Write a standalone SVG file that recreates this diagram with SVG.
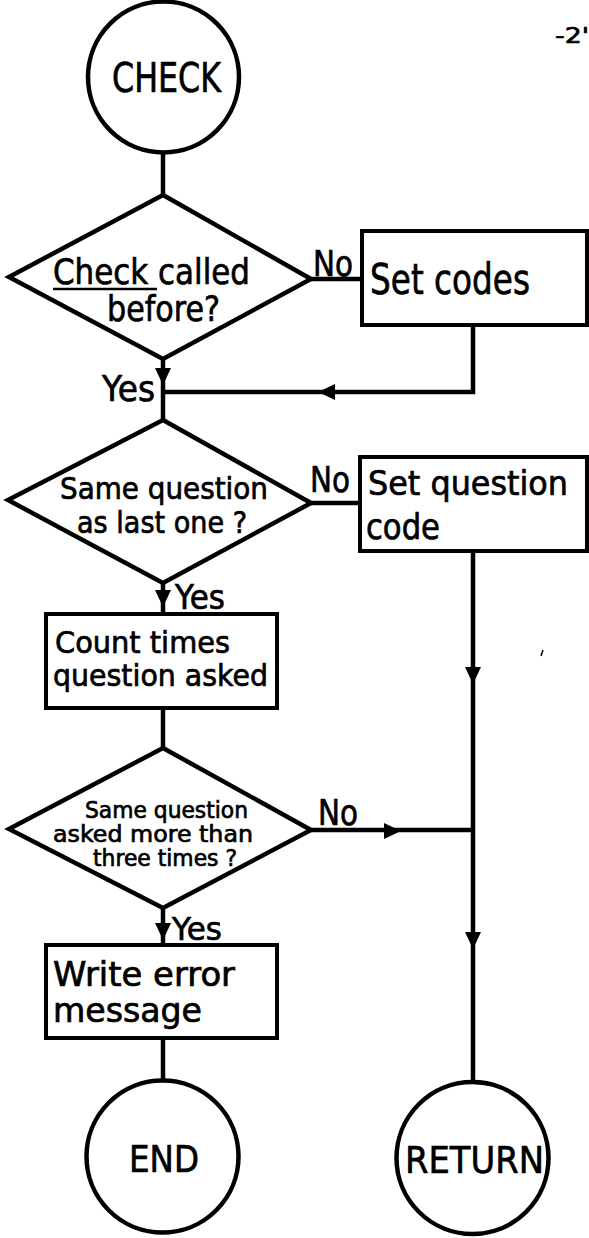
<svg xmlns="http://www.w3.org/2000/svg" xmlns:xlink="http://www.w3.org/1999/xlink" width="589" height="1238" viewBox="0 0 589 1238">
<style>
  .shape { fill: #fff; stroke: #000; stroke-width: 4.5; }
  .box { fill: #fff; stroke: #000; stroke-width: 4; }
  .line { fill: none; stroke: #000; stroke-width: 4.5; }
  .thin { fill: none; stroke: #000; stroke-width: 2.5; }
  text { font-family: "DejaVu Sans", "Liberation Sans", sans-serif; fill: #000; stroke: #000; stroke-width: 0.7; }
</style>
<defs>
  <path id="ah" d="M0,0 L-8,-17 L8,-17 Z" fill="#000"/>
</defs>
<rect x="0" y="0" width="589" height="1238" fill="#fff"/>

<g id="page-number">
  <text x="555" y="43" font-size="21" textLength="34" lengthAdjust="spacingAndGlyphs">-2'</text>
</g>

<g id="connectors">
  <line class="line" x1="163" y1="153" x2="163" y2="195"/>
  <line class="line" x1="163" y1="359" x2="163" y2="420"/>
  <line class="line" x1="311" y1="279" x2="362" y2="279"/>
  <polyline class="line" points="473,325 473,392 163,392"/>
  <line class="line" x1="311" y1="503" x2="360" y2="503"/>
  <line class="line" x1="163" y1="583" x2="163" y2="614"/>
  <line class="line" x1="163" y1="708" x2="163" y2="748"/>
  <line class="line" x1="473" y1="551" x2="473" y2="1082"/>
  <line class="line" x1="311" y1="830" x2="473" y2="830"/>
  <line class="line" x1="163" y1="908" x2="163" y2="945"/>
  <line class="line" x1="163" y1="1038" x2="163" y2="1080"/>
  <use xlink:href="#ah" transform="translate(163,385)"/>
  <use xlink:href="#ah" transform="translate(318,392) rotate(90)"/>
  <use xlink:href="#ah" transform="translate(163,607)"/>
  <use xlink:href="#ah" transform="translate(473,684)"/>
  <use xlink:href="#ah" transform="translate(401,831) rotate(-90)"/>
  <use xlink:href="#ah" transform="translate(163,940)"/>
  <use xlink:href="#ah" transform="translate(473,949)"/>
  <text x="313" y="276" font-size="36" textLength="40" lengthAdjust="spacingAndGlyphs">No</text>
  <text x="102" y="401" font-size="36" textLength="53" lengthAdjust="spacingAndGlyphs">Yes</text>
  <text x="310" y="492" font-size="36" textLength="40" lengthAdjust="spacingAndGlyphs">No</text>
  <text x="175" y="609" font-size="34" textLength="50" lengthAdjust="spacingAndGlyphs">Yes</text>
  <text x="318" y="825" font-size="36" textLength="40" lengthAdjust="spacingAndGlyphs">No</text>
  <text x="172" y="940" font-size="32" textLength="50" lengthAdjust="spacingAndGlyphs">Yes</text>
</g>

<g id="check">
  <circle class="shape" cx="163.5" cy="77" r="75.5"/>
  <text x="112" y="92" font-size="40" textLength="109" lengthAdjust="spacingAndGlyphs">CHECK</text>
</g>

<g id="decision-called-before">
  <polygon class="shape" points="163,195 311,279 163,359 9,277"/>
  <text x="53" y="284" font-size="36" textLength="197" lengthAdjust="spacingAndGlyphs">Check called</text>
  <line class="thin" x1="53" y1="289" x2="157" y2="289"/>
  <text x="107" y="321" font-size="36" textLength="113" lengthAdjust="spacingAndGlyphs">before?</text>
</g>

<g id="set-codes">
  <rect class="box" x="362" y="231" width="225" height="94"/>
  <text x="370" y="294" font-size="42" textLength="160" lengthAdjust="spacingAndGlyphs">Set codes</text>
</g>

<g id="decision-same-question">
  <polygon class="shape" points="163,420 311,503 163,583 8,500"/>
  <text x="60" y="499" font-size="30" textLength="208" lengthAdjust="spacingAndGlyphs">Same question</text>
  <text x="77" y="533" font-size="30" textLength="170" lengthAdjust="spacingAndGlyphs">as last one ?</text>
</g>

<g id="set-question-code">
  <rect class="box" x="360" y="457" width="227" height="94"/>
  <text x="368" y="495" font-size="34" textLength="200" lengthAdjust="spacingAndGlyphs">Set question</text>
  <text x="366" y="539" font-size="35" textLength="74" lengthAdjust="spacingAndGlyphs">code</text>
</g>

<g id="count-times">
  <rect class="box" x="46" y="614" width="231" height="94"/>
  <text x="55" y="653" font-size="30" textLength="175" lengthAdjust="spacingAndGlyphs">Count times</text>
  <text x="53" y="686" font-size="30" textLength="215" lengthAdjust="spacingAndGlyphs">question asked</text>
</g>

<g id="decision-more-than-three">
  <polygon class="shape" points="163,748 311,830 163,908 9,829"/>
  <text x="85" y="818" font-size="23" textLength="163" lengthAdjust="spacingAndGlyphs">Same question</text>
  <text x="53" y="842" font-size="23" textLength="200" lengthAdjust="spacingAndGlyphs">asked more than</text>
  <text x="93" y="866" font-size="23" textLength="144" lengthAdjust="spacingAndGlyphs">three times ?</text>
</g>

<g id="write-error">
  <rect class="box" x="46" y="945" width="231" height="93"/>
  <text x="53" y="986" font-size="33" textLength="182" lengthAdjust="spacingAndGlyphs">Write error</text>
  <text x="53" y="1022" font-size="33" textLength="149" lengthAdjust="spacingAndGlyphs">message</text>
</g>

<g id="end">
  <circle class="shape" cx="162.5" cy="1156.5" r="76"/>
  <text x="129" y="1172" font-size="37" textLength="70" lengthAdjust="spacingAndGlyphs">END</text>
</g>

<g id="return">
  <circle class="shape" cx="472.5" cy="1158" r="76"/>
  <text x="405" y="1173" font-size="38" textLength="139" lengthAdjust="spacingAndGlyphs">RETURN</text>
</g>

<path d="M541,656 L543,650" stroke="#000" stroke-width="1.5" fill="none"/>
</svg>
